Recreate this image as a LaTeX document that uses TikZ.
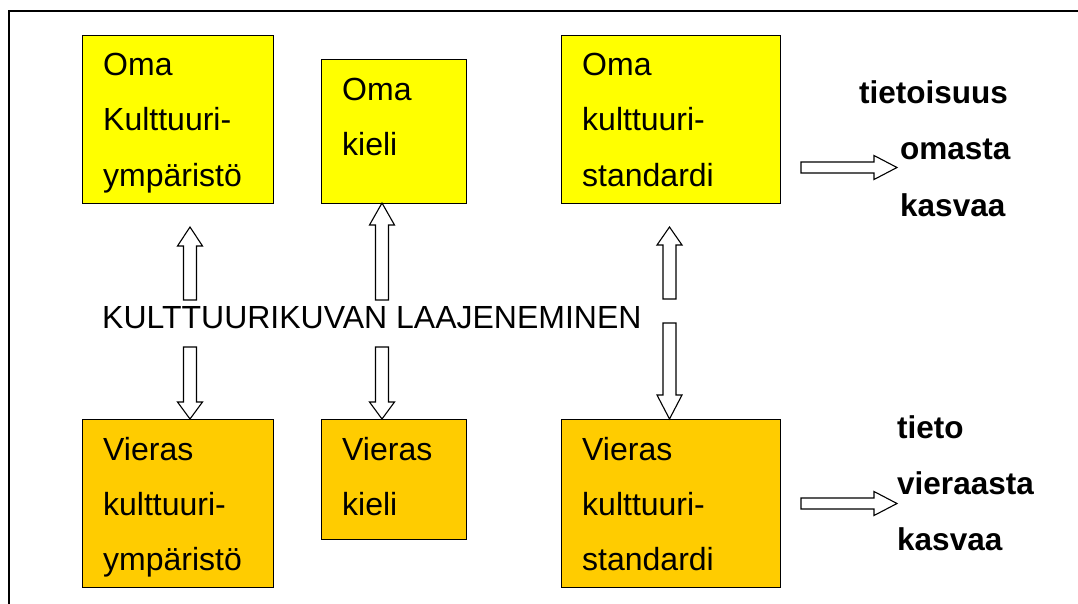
\documentclass[tikz,border=0pt]{standalone}
\usepackage{fontspec}
\setmainfont{Liberation Sans}
\definecolor{omayellow}{HTML}{FFFF00}
\definecolor{vierasorange}{HTML}{FFCC00}
% vertical block arrow: x, tail y, tip y, signed head length
\newcommand\varrow[4]{%
  \pgfmathsetmacro\hb{#3+#4}%
  \draw[blockarrow] (#1-6.5,#2) -- (#1-6.5,\hb) -- (#1-12.5,\hb) -- (#1,#3)
    -- (#1+12.5,\hb) -- (#1+6.5,\hb) -- (#1+6.5,#2) -- cycle;}
% horizontal block arrow: y, tail x, tip x
\newcommand\harrow[3]{%
  \pgfmathsetmacro\hb{#3-23}%
  \draw[blockarrow] (#2,#1-5.5) -- (\hb,#1-5.5) -- (\hb,#1-12) -- (#3,#1)
    -- (\hb,#1+12) -- (\hb,#1+5.5) -- (#2,#1+5.5) -- cycle;}
\begin{document}
\begin{tikzpicture}[x=1pt,y=-1pt,
  box/.style={draw=black,line width=1.3pt,inner sep=0pt,anchor=north west},
  txt/.style={anchor=base west,inner sep=0pt,font=\fontsize{32}{38}\selectfont},
  boldtxt/.style={txt,font=\fontsize{31.5}{38}\selectfont\bfseries},
  blockarrow/.style={draw=black,fill=white,line width=1.1pt,line join=miter}]
\useasboundingbox (0,0) rectangle (1078,604);
% outer frame
\draw[line width=1.5pt] (9,604) -- (9,11) -- (1078,11);

% own culture boxes
\node[box,fill=omayellow,minimum width=191pt,minimum height=168pt] (omaymp) at (82,35) {};
\node[box,fill=omayellow,minimum width=145pt,minimum height=144pt] (omakieli) at (321,59) {};
\node[box,fill=omayellow,minimum width=219pt,minimum height=168pt] (omastd) at (561,35) {};
% foreign culture boxes
\node[box,fill=vierasorange,minimum width=191pt,minimum height=168pt] (vierasymp) at (82,419) {};
\node[box,fill=vierasorange,minimum width=145pt,minimum height=120pt] (vieraskieli) at (321,419) {};
\node[box,fill=vierasorange,minimum width=219pt,minimum height=168pt] (vierasstd) at (561,419) {};

% box texts
\node[txt] (t1a) at (103,76) {Oma};
\node[txt] (t1b) at (103,131) {Kulttuuri-};
\node[txt] (t1c) at (103,186) {ympäristö};
\node[txt] (t2a) at (342,101) {Oma};
\node[txt] (t2b) at (342,156) {kieli};
\node[txt] (t3a) at (582,76) {Oma};
\node[txt] (t3b) at (582,131) {kulttuuri-};
\node[txt] (t3c) at (582,186) {standardi};
\node[txt] (t4a) at (103,460) {Vieras};
\node[txt] (t4b) at (103,515) {kulttuuri-};
\node[txt] (t4c) at (103,570) {ympäristö};
\node[txt] (t5a) at (342,460) {Vieras};
\node[txt] (t5b) at (342,515) {kieli};
\node[txt] (t6a) at (582,460) {Vieras};
\node[txt] (t6b) at (582,515) {kulttuuri-};
\node[txt] (t6c) at (582,570) {standardi};

% central label
\node[txt] (laaj) at (102,328) {KULTTUURIKUVAN LAAJENEMINEN};

% outcome labels
\node[boldtxt] (r1a) at (859,104) {tietoisuus};
\node[boldtxt] (r1b) at (900,160) {omasta};
\node[boldtxt] (r1c) at (900,216) {kasvaa};
\node[boldtxt] (r2a) at (897,438) {tieto};
\node[boldtxt] (r2b) at (897,494) {vieraasta};
\node[boldtxt] (r2c) at (897,550) {kasvaa};

% block arrows from the central label
\varrow{190}{300}{227}{19}
\varrow{190}{347}{419}{-17}
\varrow{382}{300}{203}{22}
\varrow{382}{347}{419}{-17}
\varrow{669.5}{299}{227}{18}
\varrow{669.5}{323}{419}{-24}
% block arrows towards the outcomes
\harrow{167.5}{801}{897}
\harrow{503.5}{801}{897}
\end{tikzpicture}
\end{document}
